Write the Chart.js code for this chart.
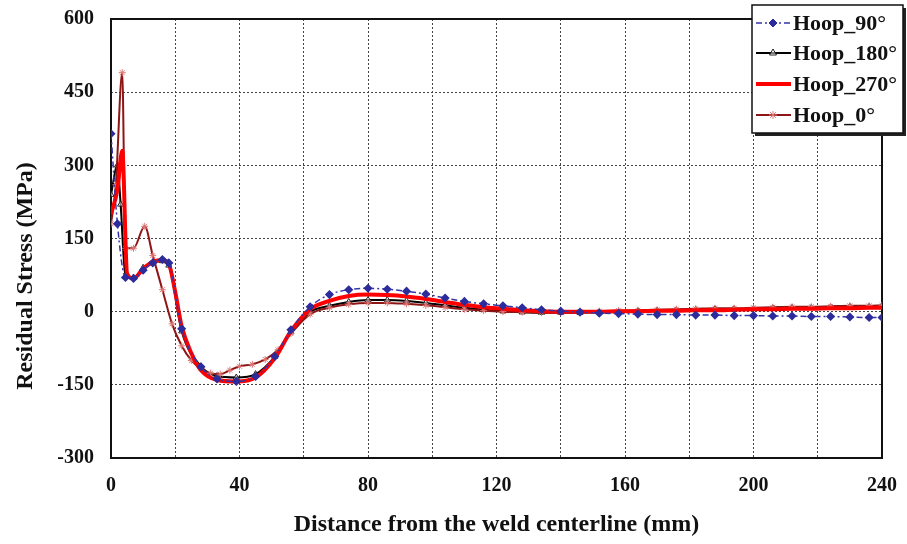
<!DOCTYPE html>
<html lang="en">
  <head>
    <meta charset="UTF-8" />
    <title>Hoop residual stress</title>
    <script src="https://cdn.jsdelivr.net/npm/chart.js"></script>
    <style>
      body {
        margin: 0;
        background: #fff;
      }
      .chart-container {
        width: 907px;
        height: 544px;
      }
    </style>
  </head>
  <body>
    <div class="chart-container">
      <canvas id="stressChart" width="907" height="544"></canvas>
    </div>

    <script>
      // distances (mm) shared by all series beyond the weld zone
      const distTail = [62, 68, 74, 80, 86, 92, 98, 104, 110, 116, 122, 128, 134, 140, 146, 152, 158, 164, 170, 176, 182, 188, 194, 200, 206, 212, 218, 224, 230, 236, 240];

      // Hoop_90°
      const near90x = [0, 2, 4.5, 7, 10, 13, 16, 18, 22, 28, 33, 39, 45, 51, 56];
      const near90y = [365, 180, 70, 68, 85, 100, 107, 100, -35, -113, -138, -143, -133, -92, -37];
      const tail90 = [10, 35, 45, 48, 46, 42, 36, 28, 21, 16, 12, 8, 4, 1, -1, -3, -4, -5, -6, -6, -7, -7, -8, -8, -9, -9, -10, -10, -11, -12, -12];

      // Hoop_180°
      const near180x = [0, 2, 3, 4.5, 7, 10, 13, 16, 18, 22, 28, 33, 39, 45, 51, 56];
      const near180y = [240, 300, 220, 72, 70, 90, 100, 104, 95, -40, -112, -132, -135, -128, -92, -42];
      const tail180 = [0, 12, 20, 24, 24, 22, 18, 13, 8, 4, 1, -1, -2, -2, -2, -1, 0, 1, 2, 3, 4, 5, 5, 6, 7, 8, 8, 9, 10, 10, 11];

      // Hoop_270°
      const near270x = [0, 2, 3.5, 5, 7, 10, 13, 16, 18, 20, 22, 25, 28, 33, 39, 45, 51, 56];
      const near270y = [200, 250, 330, 78, 68, 88, 102, 106, 98, 40, -30, -85, -120, -140, -143, -135, -95, -40];
      const tail270 = [5, 22, 32, 35, 34, 31, 26, 20, 14, 9, 6, 3, 1, 0, 0, 0, 1, 1, 2, 2, 3, 3, 4, 5, 5, 6, 6, 7, 7, 8, 8];

      // Hoop_0°
      const near0x = [0, 1.5, 3.5, 4.5, 7, 10.5, 13, 16, 19, 22, 25, 28, 31, 34, 37, 40, 44, 48, 52, 56];
      const near0y = [180, 260, 490, 130, 130, 175, 115, 45, -25, -70, -100, -117, -126, -128, -120, -112, -108, -98, -78, -45];
      const tail0 = [-5, 8, 15, 18, 18, 16, 13, 9, 5, 2, 0, -1, -2, -1, 0, 1, 2, 3, 4, 5, 6, 7, 7, 8, 9, 10, 10, 11, 12, 12, 13];

      const yTicks = [-300, -150, 0, 150, 300, 450, 600];
      const xLabels = [0, 40, 80, 120, 160, 200, 240];

      function points(xs, ys) {
        return xs.map((x, i) => ({ x: x, y: ys[i] }));
      }

      const SERIF = "'Liberation Serif', 'Times New Roman', serif";

      const series = [
        {
          label: "Hoop_90°",
          data: points(near90x.concat(distTail), near90y.concat(tail90)),
          borderColor: "#3535a8",
          borderWidth: 1.5,
          borderDash: [6, 3, 2, 3],
          pointStyle: "rectRot",
          pointRadius: 3.5,
          pointBackgroundColor: "#2c2c9c",
          pointBorderColor: "#2c2c9c",
          order: 1,
        },
        {
          label: "Hoop_180°",
          data: points(near180x.concat(distTail), near180y.concat(tail180)),
          borderColor: "#000000",
          borderWidth: 2,
          pointStyle: "triangle",
          pointRadius: 3.5,
          pointBorderWidth: 1,
          pointBackgroundColor: "rgba(255,255,255,0.5)",
          pointBorderColor: "#222",
          order: 4,
        },
        {
          label: "Hoop_270°",
          data: points(near270x.concat(distTail), near270y.concat(tail270)),
          borderColor: "#ff0000",
          borderWidth: 4,
          pointRadius: 0,
          order: 2,
        },
        {
          label: "Hoop_0°",
          data: points(near0x.concat(distTail), near0y.concat(tail0)),
          borderColor: "#8e1515",
          borderWidth: 2,
          pointStyle: "star",
          pointRadius: 3.5,
          pointBorderWidth: 1,
          pointBorderColor: "#e07878",
          pointBackgroundColor: "#e07878",
          order: 3,
        },
      ];

      // plot frame, y title and the boxed legend
      const decorations = {
        id: "decorations",
        beforeDatasetsDraw(chart) {
          const { ctx, chartArea: a } = chart;
          ctx.save();
          ctx.strokeStyle = "#111";
          ctx.lineWidth = 2;
          ctx.strokeRect(a.left, a.top, a.right - a.left, a.bottom - a.top);
          ctx.restore();
        },
        afterDraw(chart) {
          const ctx = chart.ctx;
          ctx.save();
          // y axis title
          ctx.translate(26, 276);
          ctx.rotate(-Math.PI / 2);
          ctx.font = "bold 24px " + SERIF;
          ctx.fillStyle = "#111";
          ctx.textAlign = "center";
          ctx.textBaseline = "middle";
          ctx.fillText("Residual Stress (MPa)", 0, 0);
          ctx.restore();

          // legend box
          const bx = 752, by = 5, bw = 151, bh = 128;
          ctx.save();
          ctx.fillStyle = "#222";
          ctx.fillRect(bx + 3, by + 3, bw, bh);
          ctx.fillStyle = "#fff";
          ctx.fillRect(bx, by, bw, bh);
          ctx.strokeStyle = "#111";
          ctx.lineWidth = 1.5;
          ctx.strokeRect(bx, by, bw, bh);
          const rows = [23, 53, 84, 115];
          ctx.font = "bold 22px " + SERIF;
          ctx.textBaseline = "middle";
          ctx.textAlign = "left";
          series.forEach((s, i) => {
            const y = rows[i];
            ctx.save();
            ctx.strokeStyle = s.borderColor;
            ctx.lineWidth = s.borderWidth;
            if (s.borderDash) ctx.setLineDash(s.borderDash);
            ctx.beginPath();
            ctx.moveTo(756, y);
            ctx.lineTo(791, y);
            ctx.stroke();
            ctx.restore();
            if (s.pointRadius > 0) {
              ctx.save();
              ctx.strokeStyle = s.pointBorderColor;
              ctx.fillStyle = s.pointBackgroundColor;
              ctx.lineWidth = s.pointBorderWidth || 1;
              Chart.helpers.drawPoint(ctx, {
                pointStyle: s.pointStyle,
                radius: s.pointRadius + 0.5,
                rotation: 0,
                borderWidth: s.pointBorderWidth || 1,
              }, 773, y);
              ctx.restore();
            }
            ctx.fillStyle = "#111";
            ctx.fillText(s.label, 793, y + 1);
          });
          ctx.restore();
        },
      };

      const ctx = document.getElementById("stressChart").getContext("2d");
      new Chart(ctx, {
        type: "line",
        data: { datasets: series },
        plugins: [decorations],
        options: {
          responsive: false,
          animation: false,
          devicePixelRatio: 1,
          layout: { padding: { top: 19, right: 25, left: 0, bottom: 0 } },
          elements: {
            line: { cubicInterpolationMode: "monotone", fill: false },
          },
          plugins: {
            legend: { display: false },
            tooltip: { enabled: false },
          },
          scales: {
            x: {
              type: "linear",
              min: 0,
              max: 240,
              afterFit: (scale) => {
                scale.height = 86;
                scale.paddingLeft = 0;
                scale.paddingRight = 0;
              },
              afterBuildTicks: (scale) => {
                const t = [];
                for (let v = 0; v <= 240; v += 20) t.push({ value: v });
                scale.ticks = t;
              },
              ticks: {
                autoSkip: false,
                maxRotation: 0,
                padding: 16,
                color: "#111",
                font: { family: SERIF, size: 20, weight: "bold" },
                callback: (v) => (xLabels.includes(v) ? String(v) : ""),
              },
              grid: {
                color: "#444",
                lineWidth: 1,
                drawTicks: false,
              },
              border: { display: false, dash: [2, 2] },
              title: {
                display: true,
                text: "Distance from the weld centerline (mm)",
                color: "#111",
                font: { family: SERIF, size: 24, weight: "bold" },
                padding: { top: 0, bottom: 5 },
              },
            },
            y: {
              min: -300,
              max: 600,
              afterFit: (scale) => {
                scale.width = 111;
                scale.paddingTop = 0;
                scale.paddingBottom = 0;
              },
              afterBuildTicks: (scale) => {
                scale.ticks = yTicks.map((v) => ({ value: v }));
              },
              ticks: {
                padding: 17,
                color: "#111",
                font: { family: SERIF, size: 20, weight: "bold" },
              },
              grid: {
                color: "#444",
                lineWidth: 1,
                drawTicks: false,
              },
              border: { display: false, dash: [2, 2] },
            },
          },
        },
      });
    </script>
  </body>
</html>
